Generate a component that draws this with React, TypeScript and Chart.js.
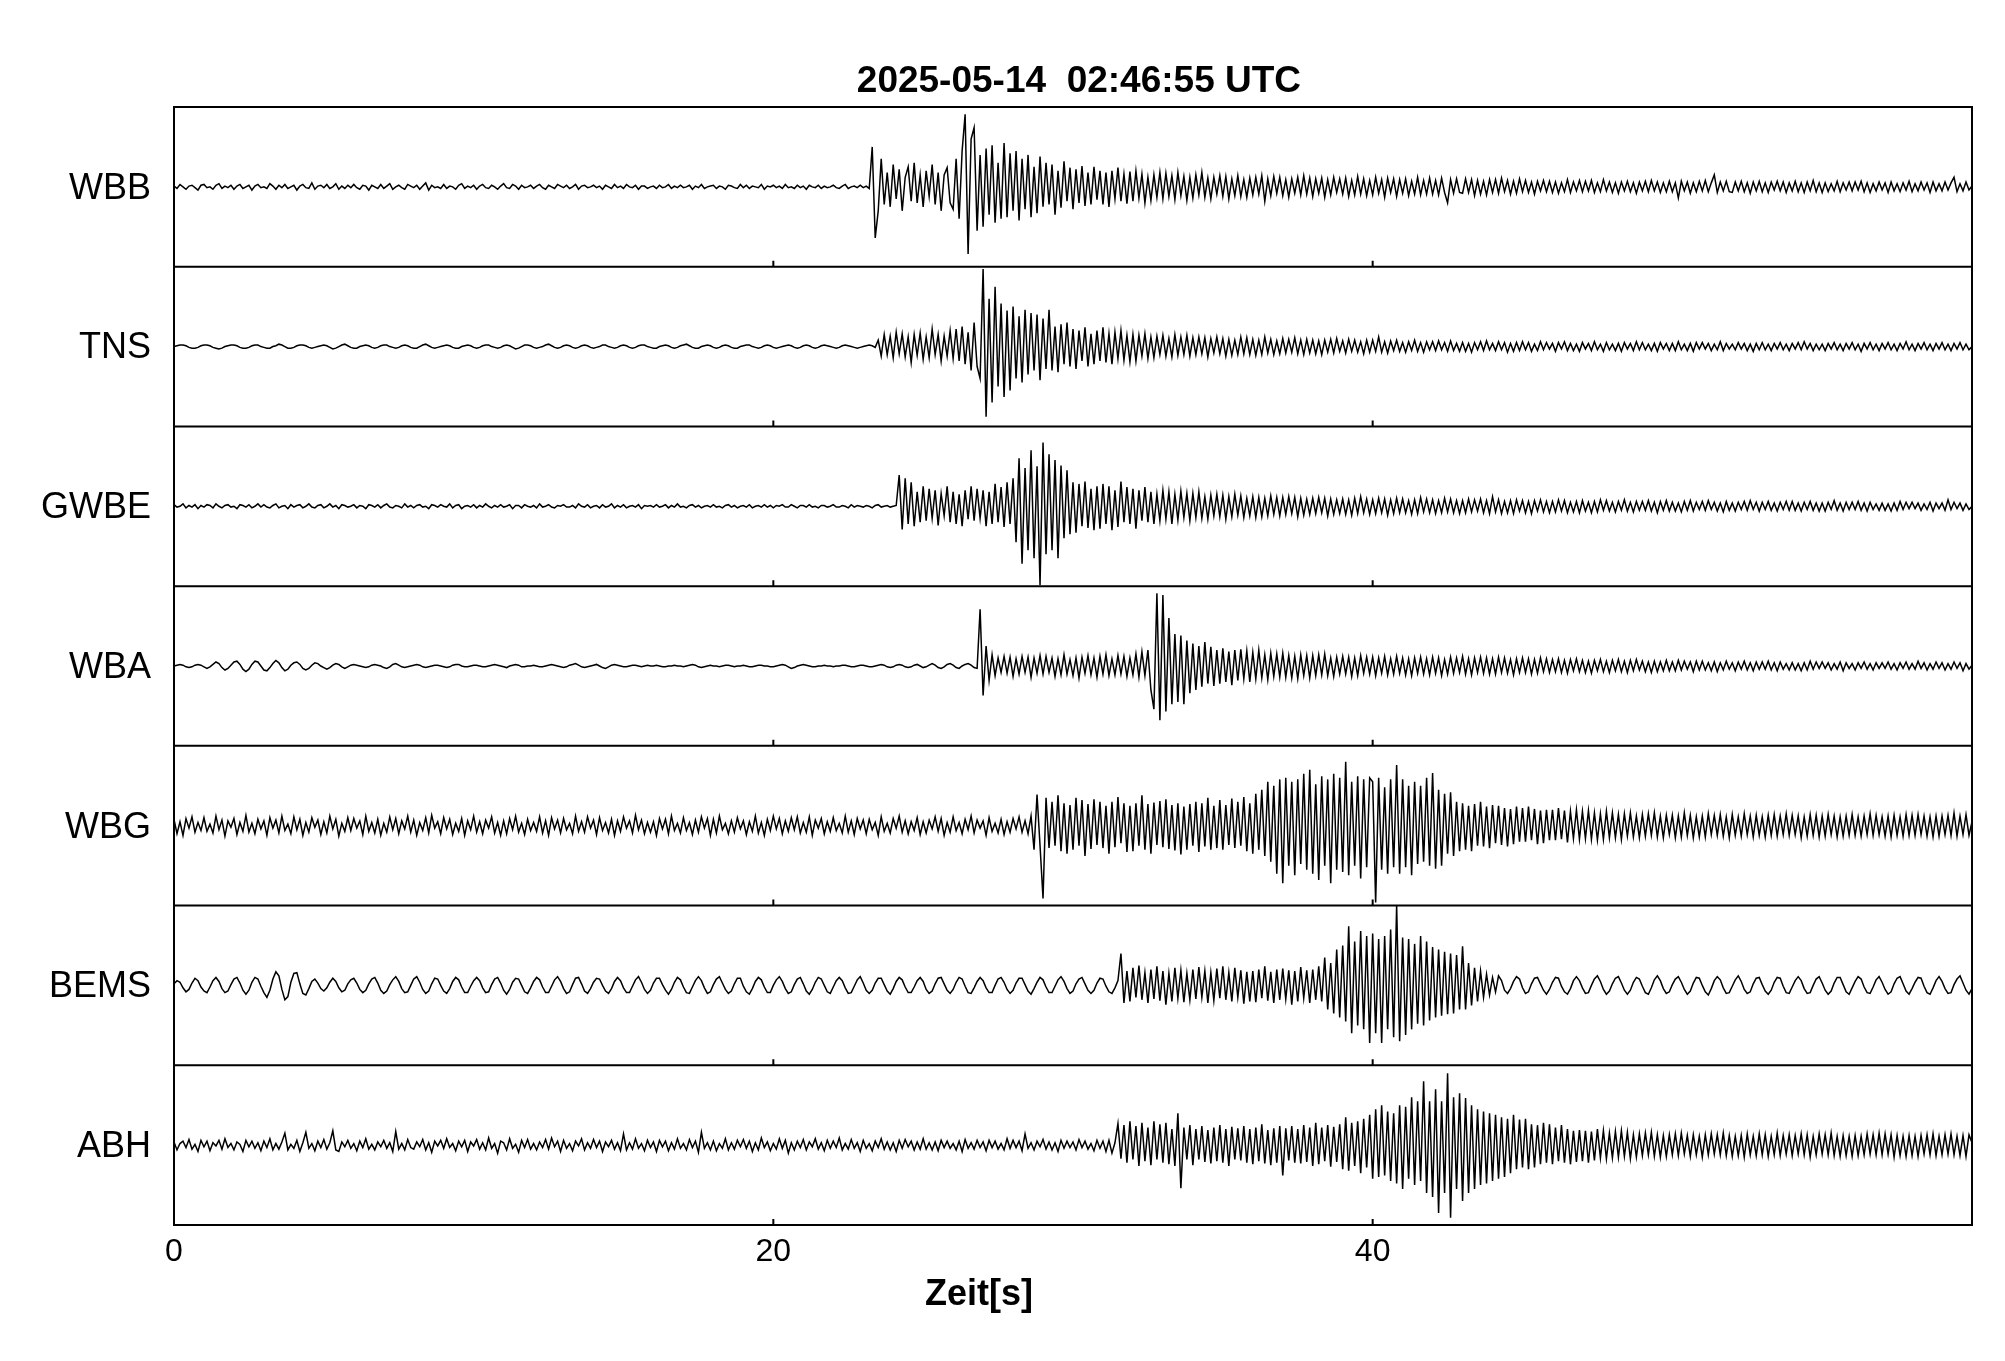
import React, { useEffect, useRef } from "react";
import { Chart, registerables } from "chart.js";

Chart.register(...registerables);

// ---- data ----
const TITLE = "2025-05-14  02:46:55 UTC";
const X_LABEL = "Zeit[s]";
const STATIONS = ["WBB", "TNS", "GWBE", "WBA", "WBG", "BEMS", "ABH"];
const X_TICKS = [0, 20, 40];
const X_MIN = 0;
const X_MAX = 60;
const SAMPLE_STEP_S = 0.1; // one value every 0.1 s (each row = 1 s)
const FULL_SCALE = 100; // amplitude that fills half a panel

const WBB = [
  1,-2,3,0,-3,1,2,-1,-4,2,
  3,-1,0,-3,2,4,-2,1,-1,2,
  -3,1,3,-2,0,2,-4,1,3,-1,
  0,-2,4,1,-3,2,-1,3,-2,0,
  2,-4,1,3,-1,-2,5,-3,1,2,
  -1,3,-2,0,4,-3,1,-2,2,-1,
  3,-1,-3,2,1,-4,2,0,-2,3,
  -2,1,4,-3,0,2,-1,-3,3,1,
  -1,2,-3,1,5,-4,2,-1,0,-2,
  3,-2,1,0,-3,2,4,-2,1,-1,
  2,-3,1,3,-1,-2,2,0,-3,1,
  4,-1,-2,3,1,-3,2,-1,0,2,
  -2,1,3,-1,-3,2,0,-2,3,1,
  -1,2,-2,0,3,-3,1,2,-1,0,
  2,-1,1,-3,2,0,-2,3,-1,1,
  -2,3,0,-1,2,-3,1,1,-2,0,
  1,-2,2,-1,0,3,-2,1,-1,2,
  -1,0,2,-3,1,-1,3,-2,0,1,
  2,-2,1,0,-3,2,1,-1,-2,3,
  -1,2,-2,1,0,-1,3,-3,1,0,
  2,-1,1,-2,3,-1,0,-2,2,-1,
  1,-3,2,0,-1,2,-2,1,-1,0,
  2,-1,-2,1,3,-2,0,1,-1,2,
  -1,1,-2,50,-64,-30,35,-22,18,-25,
  28,-15,22,-30,12,25,-18,30,-20,15,
  -25,20,-12,28,-22,18,-30,15,24,-20,
  -28,35,-40,45,91,-84,60,74,-55,40,
  -50,48,-35,52,-45,30,-40,55,-38,42,
  -30,45,-42,35,-28,40,-38,25,-33,38,
  -25,30,-22,28,-35,20,-26,32,-18,24,
  -28,22,-20,26,-24,18,-22,25,-16,20,
  -22,18,-25,20,-15,24,-18,16,-21,19,
  -18,20,-14,16,-20,12,-17,15,-13,18,
  -15,17,-12,14,-16,18,-11,13,-17,12,
  -14,15,-10,18,-13,11,-15,12,-9,14,
  -12,13,-15,10,-11,14,-12,9,-13,11,
  -10,12,-9,14,-18,10,-11,13,-8,12,
  -11,9,-13,10,-8,12,-10,14,-9,11,
  -12,10,-8,11,-13,9,-10,12,-7,10,
  -9,11,-12,8,-10,13,-9,10,-11,8,
  -10,12,-8,9,-13,11,-7,10,-12,9,
  -8,10,-11,7,-9,12,-10,8,-9,11,
  -9,8,-10,11,-7,-20,9,-8,10,-7,
  -8,10,-7,9,-11,8,-9,7,-10,9,
  -7,9,-8,11,-6,8,-9,7,-8,10,
  -6,8,-7,6,-9,7,-5,8,-6,7,
  -7,6,-8,5,-6,9,-7,6,-5,8,
  -6,7,-5,8,-7,5,-6,9,-5,6,
  -7,5,-8,6,-5,7,-6,5,-8,6,
  -5,7,-6,8,-5,6,-7,5,-6,7,
  -6,5,-14,7,-5,6,-8,5,-6,7,
  -5,8,-6,5,15,-7,6,-5,7,-6,
  -7,6,-5,7,-6,5,-8,6,-5,7,
  -6,5,-7,6,-4,7,-5,6,-7,5,
  -5,7,-6,5,-7,6,-5,8,-6,5,
  -7,5,-6,4,-5,7,-6,5,-4,6,
  -5,6,-4,7,-6,5,-7,4,-5,6,
  -4,5,-7,6,-5,4,-6,5,-4,7,
  -6,4,-5,6,-4,5,-7,6,-5,4,
  -5,6,-4,5,12,-6,4,-5,6,-4,
  1,
];

const TNS = [
  0,1,2,2,1,-1,-2,-2,-1,1,
  2,2,1,-1,-2,-3,-2,0,1,2,
  2,1,-1,-2,-2,-1,1,2,2,0,
  -1,-2,-2,0,1,3,2,0,-2,-2,
  -1,1,2,2,1,-1,-2,-1,0,1,
  2,1,-1,-3,-2,0,2,3,1,-1,
  -2,-2,0,1,2,1,-1,-2,-1,1,
  2,2,0,-1,-2,-1,1,2,1,-1,
  -2,-2,0,2,3,1,-1,-2,-1,0,
  1,2,1,-1,-2,-2,0,1,2,1,
  -1,-2,-1,1,2,2,0,-1,-2,-1,
  1,2,1,-1,-3,-2,0,2,2,1,
  -1,-2,-1,0,2,3,1,-1,-2,-1,
  1,2,1,-1,-2,-1,1,2,1,-1,
  -2,-1,0,2,2,0,-1,-2,-1,1,
  2,1,-1,-2,-1,1,2,2,0,-1,
  -2,-2,0,1,2,1,-1,-2,-1,1,
  2,3,1,-1,-2,-2,0,1,2,1,
  -1,-2,-1,1,2,1,-1,-2,-2,0,
  1,2,2,0,-1,-2,-1,1,2,1,
  -1,-2,-1,0,1,2,1,-1,-2,-1,
  1,2,1,-1,-2,-1,1,2,1,0,
  -1,-2,-1,1,2,1,0,-1,-2,-1,
  0,1,2,1,-1,8,-12,15,-10,13,
  -14,18,-9,16,-13,12,-20,15,-11,17,
  -16,12,-14,22,-10,15,-18,13,-12,20,
  -15,22,-18,25,-22,18,-30,30,-25,-40,
  97,-88,60,-70,75,-50,54,-63,45,-55,
  50,-40,38,-45,46,-35,42,-30,40,-42,
  35,-28,46,-30,25,-32,28,-22,30,-25,
  22,-28,20,-18,24,-25,16,-22,20,-18,
  24,-20,16,-22,18,-15,20,-17,14,-19,
  15,-18,14,-12,16,-15,12,-14,13,-10,
  14,-12,10,-13,15,-11,12,-10,14,-12,
  11,-10,12,-9,11,-13,10,-8,12,-9,
  10,-12,9,-11,8,-10,12,-9,11,-10,
  9,-11,8,-10,12,-8,9,-10,7,-9,
  10,-8,9,-7,11,-9,8,-10,9,-8,
  8,-9,7,-10,8,-7,9,-8,10,-6,
  7,-8,9,-6,8,-7,6,-9,8,-7,
  8,-6,12,-7,6,-8,7,-5,8,-6,
  5,-7,6,-5,8,-6,5,-7,6,-4,
  6,-5,7,-4,5,-6,7,-5,4,-6,
  5,-6,4,-7,5,-4,6,-5,7,-4,
  4,-5,6,-4,5,-7,4,-6,5,-5,
  6,-4,5,-6,3,-5,6,-4,5,-3,
  4,-6,5,-3,6,-5,4,-5,3,-6,
  5,-3,4,-5,6,-4,3,-6,5,-4,
  3,-5,4,-6,5,-3,4,-5,6,-4,
  5,-4,3,-5,4,-6,5,-3,4,-5,
  4,-5,6,-4,3,-5,4,-6,5,-3,
  5,-3,4,-5,3,-4,6,-5,4,-3,
  3,-4,5,-3,4,-5,3,-6,4,-4,
  5,-4,3,-5,4,-3,5,-4,3,-5,
  4,-3,5,-4,6,-3,4,-5,3,-4,
  3,-5,4,-3,5,-4,3,-5,4,-3,
  5,-4,3,-6,4,-3,5,-4,3,-5,
  4,-3,5,-4,3,-5,4,-3,6,-4,
  3,-5,4,-3,5,-4,3,-5,4,-3,
  5,-4,3,-5,4,-3,5,-4,3,-4,
  0,
];

const GWBE = [
  2,-1,0,3,-2,1,-1,2,-3,1,
  -1,2,1,-2,3,0,-2,1,2,-1,
  0,-3,2,1,-1,2,-2,0,3,-1,
  2,-1,-2,1,3,-2,0,1,-3,2,
  -1,1,2,-2,0,3,-1,-2,1,2,
  -2,0,3,-1,1,-3,2,1,-1,0,
  2,-2,1,0,-3,2,1,-1,2,-2,
  1,3,-1,-2,1,0,-2,3,-1,1,
  -2,1,2,-1,0,-3,2,1,-1,2,
  0,-1,3,-2,1,2,-3,0,1,-1,
  2,-2,1,-1,3,0,-2,1,-1,2,
  -1,0,2,-3,1,1,-2,2,0,-1,
  1,-2,3,-1,0,2,-1,-2,1,0,
  2,-1,-1,1,-2,3,0,-1,2,-2,
  0,1,-2,2,-1,0,3,-2,1,-1,
  2,-2,0,1,-1,2,-3,1,0,1,
  -1,2,-1,0,2,-2,1,-1,3,-1,
  0,-2,1,2,-1,1,-2,0,1,-1,
  2,-1,0,-2,1,2,-1,1,-2,0,
  1,-1,2,-2,0,1,-1,2,-1,1,
  -2,1,0,2,-1,-1,2,0,-2,1,
  1,-1,2,-1,0,-2,1,1,-1,0,
  2,-1,-1,1,0,-2,2,-1,1,0,
  -1,1,0,-2,1,2,-1,0,1,-1,
  0,1,39,-29,35,-22,30,-25,18,-20,
  25,-18,22,-15,20,-24,16,-12,25,-20,
  18,-22,15,-25,20,-16,25,-18,22,-15,
  20,-25,18,-22,28,-20,24,-26,30,-22,
  35,-45,60,-72,48,-55,70,-65,50,-99,
  80,-60,65,-55,58,-65,51,-40,45,-35,
  30,-33,28,-25,31,-27,22,-30,25,-28,
  28,-22,25,-30,20,-26,31,-20,24,-22,
  22,-28,20,-18,24,-20,18,-22,15,-18,
  20,-16,18,-22,15,-17,19,-14,16,-18,
  16,-14,18,-15,12,-16,14,-12,15,-13,
  14,-16,12,-13,15,-11,13,-14,10,-12,
  12,-14,11,-13,10,-12,13,-10,11,-12,
  11,-10,12,-9,11,-13,10,-11,9,-10,
  10,-9,11,-8,10,-12,9,-10,8,-9,
  9,-10,8,-11,10,-9,12,-8,9,-10,
  8,-9,10,-8,9,-11,8,-9,10,-8,
  9,-8,7,-10,8,-9,11,-7,9,-8,
  8,-9,7,-8,10,-7,9,-8,7,-9,
  7,-8,9,-7,8,-6,9,-8,7,-9,
  12,-7,8,-9,6,-8,7,-9,8,-6,
  7,-8,6,-9,7,-6,8,-7,6,-8,
  6,-7,8,-6,7,-8,5,-7,6,-8,
  7,-6,5,-8,6,-7,8,-5,7,-6,
  5,-7,6,-5,8,-6,5,-7,6,-5,
  6,-5,7,-6,5,-8,6,-5,7,-6,
  5,-6,4,-7,6,-5,7,-6,5,-4,
  6,-5,7,-4,5,-6,4,-7,6,-5,
  4,-6,5,-4,6,-5,7,-4,5,-6,
  5,-4,6,-5,4,-6,5,-4,6,-5,
  6,-5,4,-6,5,-4,6,-5,4,-6,
  4,-6,5,-4,7,-5,4,-6,5,-4,
  5,-4,6,-5,4,-6,5,-4,3,-5,
  4,-5,3,-6,4,-5,6,-4,5,-3,
  5,-3,4,-5,3,-4,5,-6,4,-3,
  4,-5,8,-4,5,-3,4,-5,3,-4,
  0,
];

const WBA = [
  0,1,2,1,-1,-2,-1,1,2,1,
  -1,-3,-1,2,5,3,-2,-5,-3,1,
  5,6,2,-4,-7,-4,2,6,5,0,
  -5,-6,-2,3,7,4,-2,-6,-4,1,
  4,5,2,-3,-5,-3,1,4,3,0,
  -2,-4,-2,1,3,2,-1,-3,-1,1,
  2,1,0,-1,-2,-1,1,2,1,0,
  -2,-3,-1,2,3,1,-1,-2,-1,0,
  1,2,1,-1,-2,-1,0,1,1,0,
  -1,-2,-1,1,2,2,0,-1,-1,0,
  1,1,0,-1,-1,0,1,2,1,0,
  -1,-2,0,1,2,1,-1,-1,0,0,
  1,0,-1,-1,0,1,2,1,0,-1,
  -2,-1,1,2,3,1,-1,-2,-1,0,
  1,2,0,-2,-3,-1,1,2,1,0,
  -1,-1,0,1,1,0,-1,0,1,0,
  0,1,0,-1,-1,0,0,1,0,0,
  -1,0,1,2,1,-1,-2,-1,0,1,
  0,0,-1,0,1,1,0,-1,0,0,
  1,0,-1,-1,0,1,1,0,0,-1,
  -1,0,1,2,1,-1,-3,-2,0,1,
  2,1,0,-1,-1,0,0,1,0,0,
  -1,0,0,1,1,0,-1,-1,0,1,
  1,0,-1,-1,0,1,2,1,-1,-2,
  -1,1,2,1,-1,-2,-1,1,2,0,
  -2,-1,1,3,1,-2,-3,-1,2,3,
  1,-2,-3,0,2,3,1,-2,-3,71,
  -37,25,-18,14,-12,10,-8,12,-9,11,
  -13,9,-10,12,-8,11,-14,10,-9,13,
  -10,12,-8,10,-13,9,-11,14,-10,8,
  -12,10,-15,11,-9,13,-11,10,-14,12,
  -10,14,-12,9,-11,13,-10,12,-13,10,
  -11,15,-14,18,-12,20,-30,-54,91,-68,
  89,-57,60,-48,40,-45,38,-48,32,-34,
  28,-30,25,-26,30,-22,24,-25,20,-22,
  22,-20,18,-24,20,-18,21,-16,19,-20,
  17,-16,20,-15,14,-17,16,-13,15,-14,
  16,-14,13,-15,12,-16,14,-12,13,-15,
  13,-12,14,-11,15,-12,10,-13,11,-10,
  12,-10,11,-13,10,-12,13,-9,11,-10,
  11,-12,10,-9,12,-11,9,-10,12,-9,
  10,-11,9,-12,10,-9,11,-10,9,-11,
  11,-9,10,-12,8,-10,11,-9,10,-8,
  12,-10,9,-11,10,-8,11,-9,10,-10,
  9,-10,11,-8,10,-9,8,-11,9,-8,
  10,-8,9,-10,8,-9,10,-7,9,-8,
  8,-7,9,-8,7,-9,8,-6,9,-7,
  7,-8,6,-9,7,-6,8,-7,6,-8,
  7,-6,8,-7,6,-8,7,-6,8,-5,
  6,-7,5,-8,6,-7,5,-6,7,-6,
  5,-6,7,-5,6,-4,5,-7,6,-5,
  6,-5,4,-6,5,-7,4,-5,6,-4,
  4,-6,5,-4,6,-5,4,-6,5,-4,
  5,-4,6,-5,4,-6,5,-4,3,-5,
  4,-5,3,-6,4,-5,6,-4,5,-3,
  5,-3,4,-5,3,-4,5,-6,4,-3,
  3,-5,4,-3,5,-4,3,-5,4,-3,
  4,-3,5,-4,3,-5,4,-3,5,-4,
  3,-4,6,-3,4,-5,3,-4,5,-3,
  4,-5,3,-4,5,-3,4,-6,3,-4,
  1,
];

const WBG = [
  8,-10,5,-12,9,-3,11,-8,4,-6,
  10,-7,2,-9,12,-5,7,-13,6,-2,
  9,-11,4,-7,13,-8,3,-10,8,-4,
  6,-12,10,-3,7,-9,12,-6,2,-10,
  11,-5,8,-12,4,-8,10,-2,7,-11,
  5,-9,12,-4,8,-13,3,-7,10,-6,
  9,-3,6,-11,12,-7,4,-9,8,-12,
  3,-8,11,-5,9,-10,6,-4,12,-8,
  7,-12,4,-6,10,-9,13,-3,5,-10,
  10,-4,8,-11,3,-7,9,-12,6,-5,
  12,-8,5,-10,7,-3,11,-9,4,-12,
  6,-10,9,-5,12,-8,3,-11,8,-6,
  4,-7,11,-9,6,-12,10,-4,7,-9,
  9,-5,3,-10,12,-7,5,-8,11,-3,
  7,-11,10,-6,4,-9,8,-12,6,-7,
  11,-3,6,-9,13,-5,7,-10,4,-8,
  5,-12,9,-4,8,-10,12,-6,3,-9,
  10,-6,4,-11,7,-8,11,-3,9,-12,
  8,-9,12,-5,3,-10,6,-8,10,-4,
  6,-11,5,-7,12,-9,4,-12,8,-6,
  12,-4,9,-10,6,-7,10,-5,11,-9,
  4,-8,11,-12,7,-3,9,-10,5,-7,
  10,-6,3,-9,12,-8,6,-11,9,-4,
  7,-10,8,-5,4,-12,11,-7,3,-9,
  9,-3,12,-8,6,-10,5,-6,10,-11,
  5,-9,7,-4,11,-7,9,-12,4,-8,
  11,-6,4,-10,8,-5,12,-9,7,-3,
  6,-12,10,-7,3,-9,8,-11,5,-8,
  9,-4,11,-8,6,-10,12,-30,39,-25,
  -91,35,-28,30,-25,38,-32,28,-35,26,
  -30,35,-25,32,-38,27,-29,33,-24,30,
  -28,25,-35,30,-27,36,-22,28,-33,25,
  -32,28,-25,38,-30,27,-35,29,-24,31,
  -27,33,-29,26,-31,28,-36,24,-30,27,
  -25,30,-33,28,-26,35,-30,25,-28,32,
  -30,26,-24,34,-28,30,-25,36,-32,28,
  -35,40,-30,45,-38,55,-45,50,-60,58,
  -72,60,-50,55,-62,58,-48,65,-55,70,
  -60,52,-68,62,-50,58,-72,65,-55,60,
  -58,80,-62,55,-50,62,-66,58,-52,60,
  55,-96,60,-55,48,-60,58,-52,76,-60,
  58,-52,50,-62,55,-48,50,-45,60,-50,
  66,-54,45,-50,40,-35,42,-38,30,-32,
  28,-30,25,-32,27,-25,30,-26,24,-28,
  26,-22,25,-24,22,-26,21,-23,24,-20,
  22,-20,24,-18,21,-23,19,-22,20,-18,
  20,-18,22,-17,19,-21,18,-16,20,-17,
  18,-16,19,-17,16,-18,15,-17,18,-15,
  16,-15,14,-17,15,-13,16,-14,12,-15,
  14,-13,15,-12,16,-14,12,-15,13,-11,
  13,-15,12,-14,16,-12,13,-15,11,-14,
  12,-14,15,-11,13,-12,14,-13,11,-15,
  14,-12,11,-13,15,-11,12,-14,13,-12,
  11,-14,13,-12,14,-13,12,-11,15,-12,
  13,-11,12,-15,11,-13,14,-12,13,-14,
  12,-13,14,-11,12,-14,11,-13,12,-12,
  14,-12,11,-13,12,-11,15,-12,13,-11,
  11,-13,12,-14,13,-12,11,-13,14,-12,
  13,-12,14,-11,12,-13,11,-14,12,-13,
  12,-11,13,-12,16,-13,12,-11,14,-12,
  5,
];

const BEMS = [
  2,6,4,-3,-8,-5,3,9,6,-2,
  -7,-9,-2,6,10,5,-4,-9,-7,1,
  8,10,3,-6,-11,-6,4,10,8,-1,
  -9,-15,-6,8,17,12,-5,-18,-14,4,
  15,16,2,-10,-12,-4,5,8,3,-4,
  -7,-3,4,9,5,-3,-8,-6,2,7,
  9,3,-5,-9,-6,2,8,10,3,-6,
  -10,-7,1,7,11,5,-4,-9,-8,0,
  8,11,4,-5,-10,-7,2,9,8,0,
  -7,-10,-4,5,10,7,-2,-9,-9,-1,
  6,10,6,-3,-9,-8,1,8,10,3,
  -6,-11,-5,4,9,8,0,-8,-10,-3,
  5,10,7,-2,-9,-9,-1,7,11,5,
  -4,-10,-8,1,9,10,2,-7,-10,-4,
  4,9,8,0,-7,-10,-4,5,10,6,
  -3,-9,-9,-1,7,11,4,-5,-10,-6,
  3,9,9,1,-6,-11,-5,4,10,7,
  -2,-9,-10,-2,6,11,6,-3,-10,-8,
  1,8,11,3,-5,-10,-7,2,9,9,
  -1,-8,-11,-4,5,10,7,-2,-9,-9,
  0,7,11,5,-4,-10,-8,1,8,10,
  2,-7,-11,-5,4,10,8,0,-8,-10,
  -2,6,10,6,-3,-10,-9,-1,7,11,
  3,-6,-10,-6,3,9,9,1,-7,-11,
  -4,5,10,7,-2,-9,-9,-2,6,10,
  5,-5,-10,-7,2,9,10,2,-6,-10,
  -5,4,10,8,-1,-9,-10,-3,5,10,
  6,-3,-9,-9,0,8,10,4,-5,-10,
  -6,3,9,9,1,-7,-11,-4,4,10,
  7,-2,-9,-9,-1,7,11,5,-4,-10,
  -7,2,8,10,2,-6,-10,-6,3,9,
  8,-1,-8,-10,-3,6,40,-22,18,-20,
  22,-15,25,-18,16,-22,20,-17,24,-19,
  18,-24,15,-20,22,-16,19,-21,15,-18,
  20,-17,23,-15,18,-22,16,-19,21,-16,
  24,-18,16,-20,22,-15,19,-23,17,-20,
  18,-21,20,-16,24,-19,17,-22,20,-18,
  21,-17,19,-24,18,-20,23,-16,19,-22,
  20,-18,24,-20,35,-30,28,-35,45,-40,
  50,-45,74,-60,55,-50,68,-55,62,-72,
  65,-60,58,-72,62,-55,70,-65,100,-70,
  60,-62,58,-55,52,-48,62,-50,55,-44,
  48,-40,45,-38,42,-36,40,-35,38,-30,
  49,-30,28,-25,22,-20,18,-15,14,-12,
  10,-8,12,6,-6,-10,-4,5,11,8,
  -3,-10,-8,2,9,10,2,-6,-11,-5,
  4,10,9,-1,-8,-11,-4,6,11,6,
  -3,-10,-9,0,8,12,5,-5,-11,-7,
  2,9,11,3,-6,-11,-6,4,10,8,
  -1,-9,-11,-3,7,12,6,-4,-10,-8,
  1,8,11,4,-5,-11,-7,3,10,9,
  0,-8,-12,-4,6,11,7,-3,-10,-9,
  -1,7,12,5,-5,-10,-8,2,9,10,
  1,-7,-11,-6,4,10,9,-1,-9,-10,
  -2,6,11,6,-4,-10,-9,0,8,11,
  3,-6,-11,-7,3,10,10,1,-8,-11,
  -3,5,11,8,-2,-9,-10,-2,7,11,
  4,-5,-11,-8,2,9,11,2,-7,-11,
  -4,4,10,9,-1,-9,-11,-3,6,11,
  5,-4,-10,-9,1,8,12,3,-6,-11,
  -4,
];

const ABH = [
  4,-6,2,5,-3,7,-5,1,-8,6,
  -2,5,-7,3,-1,6,-5,8,-3,2,
  -6,4,1,-8,6,-2,5,-4,3,-7,
  5,-3,8,-6,2,-5,4,15,-6,1,
  -4,6,-8,3,16,-4,2,-7,5,-3,
  7,-5,3,18,-6,-8,4,-2,6,-4,
  2,-7,5,-3,8,-5,1,-6,4,-2,
  6,-4,3,-8,17,-5,2,-6,7,-3,
  -5,4,-2,7,-6,3,-9,5,-1,6,
  -4,8,-3,2,-7,5,-2,6,-8,4,
  -1,7,-5,3,-6,9,-4,2,-10,5,
  3,-6,8,-4,1,-9,6,-3,7,-5,
  2,-6,4,-3,7,-5,9,-2,5,-8,
  6,-4,2,-7,5,-1,8,-6,3,-4,
  7,-3,5,-8,4,-2,6,-5,3,-7,
  14,-6,3,-5,8,-4,2,-7,6,-3,
  4,-8,6,-2,5,-7,3,-5,8,-4,
  2,-6,7,-3,5,-9,16,-4,3,-6,
  5,-7,2,-4,8,-6,3,-5,6,-2,
  7,-4,5,-8,3,-6,9,-3,4,-7,
  2,-5,8,-4,6,-10,3,-6,5,-3,
  7,-6,4,-2,8,-5,3,-7,6,-4,
  5,-3,9,-6,2,-5,7,-4,3,-8,
  6,-4,2,-7,5,-3,8,-5,4,-6,
  3,-8,6,-4,7,-2,5,-6,4,-5,
  8,-5,3,-6,4,-7,6,-3,5,-4,
  2,-6,5,-8,7,-4,3,-5,6,-3,
  4,-7,6,-3,5,-5,2,-6,8,-4,
  6,-3,5,-7,14,-4,3,-6,5,-2,
  7,-5,4,-6,3,-8,6,-4,5,-3,
  4,-6,7,-3,5,-5,2,-7,6,-4,
  5,-8,6,-10,3,27,-17,25,-22,30,
  -18,24,-26,28,-20,22,-25,30,-18,26,
  -22,28,-24,20,-26,40,-54,22,-18,25,
  -25,20,-18,24,-21,19,-23,22,-20,25,
  -22,20,-26,23,-18,21,-19,24,-22,20,
  -24,22,-20,26,-23,19,-25,21,-22,24,
  -38,21,-19,24,-22,20,-23,25,-21,22,
  -26,28,-24,22,-20,25,-27,23,-21,26,
  -30,35,-32,28,-26,30,-35,33,-28,38,
  -42,45,-40,50,-38,42,-45,40,-48,50,
  -55,48,-42,60,-50,55,-45,80,-60,55,
  -65,70,-85,55,-60,90,-91,60,-55,65,
  -70,59,-60,50,-55,45,-50,42,-48,40,
  -45,38,-42,35,-40,33,-35,38,-30,32,
  -28,33,-30,26,-28,25,-24,28,-22,26,
  -24,22,-20,25,-22,20,-24,18,-21,19,
  -20,18,-22,17,-19,20,-16,18,-17,15,
  -16,17,-15,18,-14,16,-17,13,-15,14,
  -13,15,-12,16,-14,13,-15,12,-14,13,
  -12,14,-13,15,-11,12,-14,13,-12,11,
  -15,13,-12,14,-11,13,-12,15,-13,12,
  -14,11,-13,12,-15,14,-12,11,-13,14,
  -12,13,-14,11,-12,15,-13,12,-11,13,
  -13,12,-11,14,-12,13,-15,11,-12,14,
  -11,13,-12,15,-13,11,-14,12,-13,11,
  -14,12,-13,11,-12,14,-11,13,-12,15,
  -12,14,-11,13,-15,12,-13,11,-14,12,
  -13,11,-14,12,-11,13,-12,14,-13,11,
  -12,13,-11,14,-12,11,-13,12,-14,13,
  3,
];

const TRACES = [WBB, TNS, GWBE, WBA, WBG, BEMS, ABH];

const FONT = '"Liberation Sans", Arial, Helvetica, sans-serif';

export default function App() {
  const canvasRef = useRef<HTMLCanvasElement | null>(null);

  useEffect(() => {
    const canvas = canvasRef.current;
    if (!canvas) return;
    const n = STATIONS.length;

    const datasets = TRACES.map((vals, k) => {
      const center = n - k - 0.5;
      return {
        label: STATIONS[k],
        data: vals.map((v, i) => ({
          x: Math.round(i * SAMPLE_STEP_S * 1000) / 1000,
          y: center + (v / FULL_SCALE) * 0.5,
        })),
        borderColor: "#000",
        borderWidth: 1.5,
        pointRadius: 0,
        tension: 0,
        fill: false,
      };
    });

    const framePlugin = {
      id: "panelFrame",
      afterDatasetsDraw(chart: any) {
        const { ctx, chartArea: a, scales } = chart;
        const xs = scales.x;
        const ys = scales.y;
        ctx.save();
        ctx.strokeStyle = "#000";
        ctx.lineWidth = 2;
        ctx.strokeRect(a.left, a.top, a.right - a.left, a.bottom - a.top);
        ctx.beginPath();
        for (let k = 1; k < n; k++) {
          const py = ys.getPixelForValue(k);
          ctx.moveTo(a.left, py);
          ctx.lineTo(a.right, py);
        }
        for (let k = 0; k < n; k++) {
          const py = ys.getPixelForValue(k);
          for (const t of X_TICKS) {
            if (t === X_MIN) continue;
            const px = xs.getPixelForValue(t);
            ctx.moveTo(px, py);
            ctx.lineTo(px, py - 6);
          }
        }
        ctx.stroke();

        ctx.fillStyle = "#000";
        ctx.textAlign = "center";
        ctx.textBaseline = "middle";
        const w = a.right - a.left;
        ctx.font = `bold 37px ${FONT}`;
        ctx.fillText(TITLE, a.left + w * 0.5033, a.top - 25);
        ctx.font = `bold 36px ${FONT}`;
        ctx.fillText(X_LABEL, a.left + w * 0.4477, a.bottom + 70);
        ctx.restore();
      },
    };

    const chart = new Chart(canvas, {
      type: "line",
      data: { datasets },
      options: {
        animation: false,
        responsive: false,
        devicePixelRatio: 1,
        normalized: true,
        events: [],
        layout: { padding: { top: 107, right: 33, left: 0, bottom: 0 } },
        plugins: {
          legend: { display: false },
          tooltip: { enabled: false },
          title: { display: false },
        },
        scales: {
          x: {
            type: "linear",
            min: X_MIN,
            max: X_MAX,
            afterBuildTicks: (s: any) => {
              s.ticks = X_TICKS.map((v) => ({ value: v }));
            },
            afterFit: (s: any) => {
              s.height = 136;
            },
            ticks: {
              autoSkip: false,
              maxRotation: 0,
              padding: 8,
              color: "#000",
              font: { family: FONT, size: 32 },
              callback: (v: any) => String(v),
            },
            grid: { display: false, drawTicks: false },
            border: { display: false },
          },
          y: {
            type: "linear",
            min: 0,
            max: n,
            afterBuildTicks: (s: any) => {
              s.ticks = STATIONS.map((_, k) => ({ value: n - k - 0.5 }));
            },
            afterFit: (s: any) => {
              s.width = 174;
            },
            ticks: {
              autoSkip: false,
              padding: 23,
              labelOffset: 2,
              color: "#000",
              font: { family: FONT, size: 36 },
              callback: (v: any) => STATIONS[Math.round(n - 0.5 - Number(v))] ?? "",
            },
            grid: { display: false, drawTicks: false },
            border: { display: false },
          },
        },
      },
      plugins: [framePlugin],
    } as any);

    return () => chart.destroy();
  }, []);

  return (
    <div
      style={{
        position: "fixed",
        left: 0,
        top: 0,
        width: 2005,
        height: 1361,
        background: "#fff",
      }}
    >
      <canvas ref={canvasRef} width={2005} height={1361} style={{ width: 2005, height: 1361, display: "block" }} />
    </div>
  );
}
